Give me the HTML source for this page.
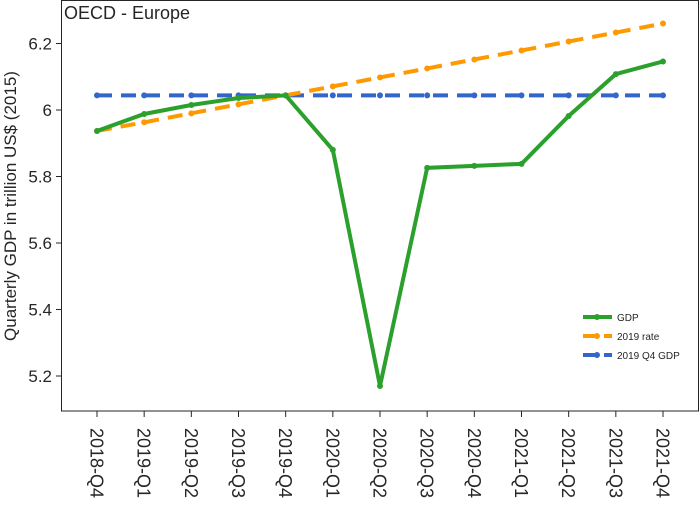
<!DOCTYPE html>
<html><head><meta charset="utf-8"><style>
body{margin:0;background:#fff;}
svg text{font-family:"Liberation Sans",sans-serif;fill:#262626;}
</style></head><body>
<svg id="chart" width="700" height="500" xmlns="http://www.w3.org/2000/svg">
<rect x="0" y="0" width="700" height="500" fill="#fff"/>
<g id="grid"></g>
<g id="series"></g>
<rect x="61.5" y="0.5" width="637" height="410.5" fill="none" stroke="#262626" stroke-width="1"/>
<text x="64" y="19" font-size="18">OECD - Europe</text>
<text transform="translate(16,206) rotate(-90)" text-anchor="middle" font-size="17">Quarterly GDP in trillion US$ (2015)</text>
<g>
<line x1="583" y1="317" x2="612" y2="317" stroke="#2ca02c" stroke-width="4"/>
<circle cx="597" cy="317" r="3" fill="#2ca02c"/>
<text x="617" y="321" font-size="10">GDP</text>
<line x1="583" y1="336" x2="612" y2="336" stroke="#ff9900" stroke-width="4" stroke-dasharray="15,6"/>
<circle cx="597" cy="336" r="3" fill="#ff9900"/>
<text x="617" y="340" font-size="10">2019 rate</text>
<line x1="583" y1="355" x2="612" y2="355" stroke="#3366cc" stroke-width="4" stroke-dasharray="15,6"/>
<circle cx="597" cy="355" r="3" fill="#3366cc"/>
<text x="617" y="359" font-size="10">2019 Q4 GDP</text>
</g>
</svg>
<script>
const categories=["2018-Q4","2019-Q1","2019-Q2","2019-Q3","2019-Q4","2020-Q1","2020-Q2","2020-Q3","2020-Q4","2021-Q1","2021-Q2","2021-Q3","2021-Q4"];
const gdp=[5.937,5.988,6.015,6.036,6.044,5.88,5.17,5.826,5.832,5.838,5.982,6.108,6.146];
const rate2019=[5.937,5.963,5.99,6.017,6.044,6.071,6.098,6.125,6.152,6.179,6.206,6.233,6.26];
const q4gdp=[6.044,6.044,6.044,6.044,6.044,6.044,6.044,6.044,6.044,6.044,6.044,6.044,6.044];
const yTicks=[5.2,5.4,5.6,5.8,6,6.2];
const yTickLabels=["5.2","5.4","5.6","5.8","6","6.2"];
const NS="http://www.w3.org/2000/svg";
function xS(i){return 97+i*(663-97)/(categories.length-1);}
function yS(v){return 110-(v-6)*332.5;}
const g=document.getElementById('grid');
yTicks.forEach((t,k)=>{
 const l=document.createElementNS(NS,'line');
 l.setAttribute('x1',56);l.setAttribute('x2',61);l.setAttribute('y1',yS(t));l.setAttribute('y2',yS(t));l.setAttribute('stroke','#262626');
 
 
 g.appendChild(l);
 const tx=document.createElementNS(NS,'text');
 tx.setAttribute('x',52);tx.setAttribute('y',yS(t)+6);tx.setAttribute('text-anchor','end');tx.setAttribute('font-size','17');
 tx.textContent=yTickLabels[k];
 
 
 g.appendChild(tx);
});
categories.forEach((c,i)=>{
 const l=document.createElementNS(NS,'line');
 l.setAttribute('x1',xS(i));l.setAttribute('x2',xS(i));l.setAttribute('y1',411);l.setAttribute('y2',417);l.setAttribute('stroke','#262626');
 
 
 g.appendChild(l);
 const tx=document.createElementNS(NS,'text');
 tx.setAttribute('transform','translate('+(xS(i)-6.5)+',428) rotate(90)');
 tx.setAttribute('font-size','18');
 tx.textContent=c;
 
 
 g.appendChild(tx);
});
const s=document.getElementById('series');
function draw(vals,color,dash,name){
 const p=document.createElementNS(NS,'polyline');
 p.setAttribute('points',vals.map((v,i)=>xS(i)+','+yS(v)).join(' '));
 p.setAttribute('fill','none');p.setAttribute('stroke',color);p.setAttribute('stroke-width','4');
 if(dash)p.setAttribute('stroke-dasharray',dash);
 
 
 s.appendChild(p);
 vals.forEach((v,i)=>{
  const c=document.createElementNS(NS,'circle');
  c.setAttribute('cx',xS(i));c.setAttribute('cy',yS(v));c.setAttribute('r',3);c.setAttribute('fill',color);
  
  
  s.appendChild(c);
 });
}
draw(q4gdp,'#3366cc','15,9','q4-gdp');
draw(rate2019,'#ff9900','15,9','rate-2019');
draw(gdp,'#2ca02c',null,'gdp');
</script>
</body></html>
